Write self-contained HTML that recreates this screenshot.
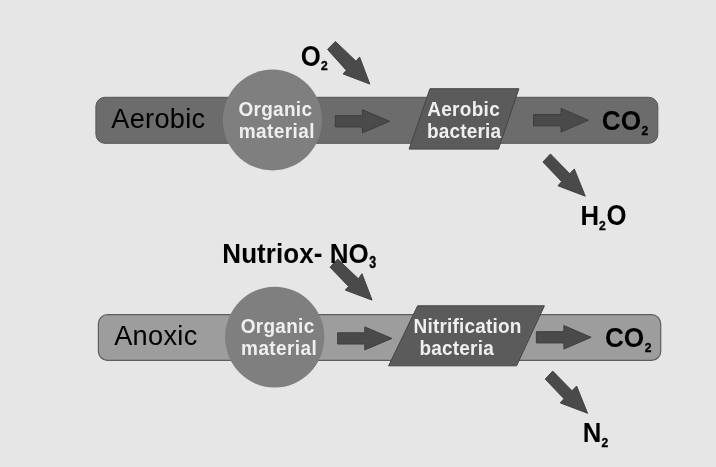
<!DOCTYPE html>
<html><head><meta charset="utf-8"><title>Aerobic and anoxic degradation</title>
<style>
html,body{margin:0;padding:0;background:#e6e6e6;}
body{width:716px;height:467px;overflow:hidden;}
svg{display:block;font-family:"Liberation Sans",sans-serif;will-change:transform;filter:grayscale(1) blur(0.35px);}
text{white-space:pre;}
.r{fill:#000;}
.b{fill:#000;font-weight:bold;}
.w{fill:#efefef;font-weight:bold;}
.s{stroke:#000;stroke-width:0.35px;}
.ar{fill:#4a4a4a;stroke:#3a3a3a;stroke-width:0.9;}
</style></head><body>
<svg width="716" height="467" viewBox="0 0 716 467">
<rect width="716" height="467" fill="#e6e6e6"/>
<rect x="95.9" y="97.3" width="561.9" height="46" rx="9" fill="#6c6c6c" stroke="#555" stroke-width="1"/>
<ellipse cx="272.40" cy="120.00" rx="49.6" ry="50.4" fill="#7f7f7f"/>
<polygon points="335.35,115.65 362.45,115.65 362.45,109.78 389.65,121.30 362.45,132.82 362.45,126.95 335.35,126.95" class="ar"/>
<polygon points="429.96,88.70 518.90,88.70 498.44,149.10 409.10,149.10" fill="#5b5b5b" stroke="#454545" stroke-width="1" stroke-linejoin="miter"/>
<polygon points="533.55,114.55 561.05,114.55 561.05,108.38 588.37,120.20 561.05,132.02 561.05,125.85 533.55,125.85" class="ar"/>
<polygon points="335.41,41.43 356.03,61.15 359.64,56.97 369.83,84.12 343.07,73.91 346.30,70.30 327.52,49.41" class="ar"/>
<polygon points="550.41,153.95 569.70,173.64 574.34,168.91 585.30,196.21 557.96,185.81 561.61,181.58 542.92,162.00" class="ar"/>
<rect x="98.4" y="314.7" width="562.3" height="45.7" rx="9" fill="#9d9d9d" stroke="#5e5e5e" stroke-width="1.2"/>
<ellipse cx="274.70" cy="337.10" rx="49.6" ry="50.4" fill="#7f7f7f"/>
<polygon points="337.65,332.75 364.75,332.75 364.75,326.88 391.95,338.40 364.75,349.92 364.75,344.05 337.65,344.05" class="ar"/>
<polygon points="417.61,305.80 544.42,305.80 516.58,365.80 388.60,365.80" fill="#5b5b5b" stroke="#454545" stroke-width="1" stroke-linejoin="miter"/>
<polygon points="536.35,331.65 563.85,331.65 563.85,325.48 591.17,337.30 563.85,349.12 563.85,342.95 536.35,342.95" class="ar"/>
<polygon points="337.72,259.04 358.37,278.79 361.98,273.65 372.12,300.13 345.28,290.11 348.62,286.49 330.02,267.20" class="ar"/>
<polygon points="552.71,371.05 572.00,390.74 576.64,386.01 587.60,413.31 560.26,402.91 563.91,398.68 545.22,379.10" class="ar"/>
<text class="r" transform="translate(111.30,127.70) scale(0.985,1.000)" style="font-size:27.6px;letter-spacing:0.3px;">Aerobic</text>
<text class="r" transform="translate(114.20,345.30) scale(0.985,1.000)" style="font-size:27.6px;letter-spacing:0.3px;">Anoxic</text>
<text class="w" transform="translate(238.40,115.90) scale(1.000,1.050)" style="font-size:19px;letter-spacing:0.3px;">Organic</text>
<text class="w" transform="translate(238.80,137.70) scale(1.000,1.050)" style="font-size:19px;letter-spacing:0.4px;">material</text>
<text class="w" transform="translate(240.70,333.00) scale(1.000,1.050)" style="font-size:19px;letter-spacing:0.3px;">Organic</text>
<text class="w" transform="translate(241.10,354.80) scale(1.000,1.050)" style="font-size:19px;letter-spacing:0.4px;">material</text>
<text class="w" transform="translate(427.20,115.80) scale(1.000,1.050)" style="font-size:19px;letter-spacing:0.3px;">Aerobic</text>
<text class="w" transform="translate(426.90,137.70) scale(1.000,1.050)" style="font-size:19px;letter-spacing:0.2px;">bacteria</text>
<text class="w" transform="translate(413.50,332.70) scale(1.000,1.050)" style="font-size:19px;letter-spacing:0.2px;">Nitrification</text>
<text class="w" transform="translate(419.50,354.60) scale(1.000,1.050)" style="font-size:19px;letter-spacing:0.2px;">bacteria</text>
<text class="b" transform="translate(601.70,129.90) scale(1.010,1.090)" style="font-size:26px;">CO</text>
<text class="b s" transform="translate(641.50,134.95) scale(0.930,1.020)" style="font-size:13px;">2</text>
<text class="b" transform="translate(604.90,347.00) scale(1.010,1.090)" style="font-size:26px;">CO</text>
<text class="b s" transform="translate(644.70,352.05) scale(0.930,1.020)" style="font-size:13px;">2</text>
<text class="b" transform="translate(300.80,65.55) scale(0.990,1.135)" style="font-size:26px;">O</text>
<text class="b s" transform="translate(321.10,70.15) scale(0.930,1.020)" style="font-size:13px;">2</text>
<text class="b" transform="translate(580.50,225.00) scale(0.990,1.080)" style="font-size:26px;">H</text>
<text class="b s" transform="translate(599.00,229.65) scale(0.930,1.020)" style="font-size:13px;">2</text>
<text class="b" transform="translate(606.40,225.10) scale(0.990,1.120)" style="font-size:26px;">O</text>
<text class="b" transform="translate(222.30,262.60) scale(1.000,1.050)" style="font-size:26px;letter-spacing:0.07px;">Nutriox- NO</text>
<text class="b s" transform="translate(369.20,268.20) scale(0.950,1.220)" style="font-size:13px;">3</text>
<text class="b" transform="translate(582.70,441.60) scale(0.990,1.030)" style="font-size:26px;">N</text>
<text class="b s" transform="translate(601.40,446.65) scale(0.930,1.020)" style="font-size:13px;">2</text>
</svg>
</body></html>
